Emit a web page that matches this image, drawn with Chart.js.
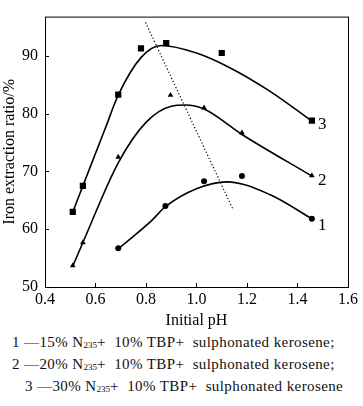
<!DOCTYPE html>
<html>
<head>
<meta charset="utf-8">
<script src="https://cdn.jsdelivr.net/npm/chart.js@4/dist/chart.umd.min.js"></script>
<style>
  body { margin: 0; background: #fff; }
  #wrap { position: relative; width: 363px; height: 330px; }
  .cap { font-family: "Liberation Serif", serif; font-size: 15px; color: #111; white-space: nowrap; position: absolute; letter-spacing: 0.4px; }
  .cap sub { font-size: 9px; vertical-align: -1px; letter-spacing: 0; }
</style>
</head>
<body>
<div id="wrap"><canvas id="grafico" width="363" height="330"></canvas></div>
<div class="cap" style="left:12px; top:334px;">1 —15% N<sub>235</sub>+ &nbsp;10% TBP+ &nbsp;sulphonated kerosene;</div>
<div class="cap" style="left:12px; top:356px;">2 —20% N<sub>235</sub>+ &nbsp;10% TBP+ &nbsp;sulphonated kerosene;</div>
<div class="cap" style="left:25px; top:378px;">3 —30% N<sub>235</sub>+ &nbsp;10% TBP+ &nbsp;sulphonated kerosene</div>
<script>
// pontos medidos (leitura do gráfico)
const phQuad = [0.51, 0.55, 0.69, 0.78, 0.88, 1.10, 1.457];
const razao3 = [63.0, 67.5, 83.3, 91.3, 92.2, 90.5, 78.8];
const phTri = [0.51, 0.55, 0.69, 0.897, 1.03, 1.18, 1.457];
const razao2 = [53.7, 57.7, 72.5, 83.2, 81.0, 76.7, 69.3];
const phCirc = [0.69, 0.877, 1.03, 1.18, 1.457];
const razao1 = [56.7, 64.0, 68.3, 69.2, 61.8];

// curvas ajustadas
const curvaPh3 = [0.51, 0.55, 0.64, 0.69, 0.78, 0.86, 1.0, 1.13, 1.29, 1.457];
const curva3 = [63.0, 67.5, 77.6, 83.2, 89.7, 91.8, 90.5, 88.0, 83.9, 78.7];
const curvaPh2 = [0.51, 0.55, 0.69, 0.8, 0.9, 0.956, 1.03, 1.18, 1.457];
const curva2 = [53.6, 57.7, 71.5, 78.5, 81.3, 81.5, 80.8, 76.4, 69.2];
const curvaPh1 = [0.69, 0.82, 0.877, 1.0, 1.12, 1.29, 1.457];
const curva1 = [56.6, 61.4, 63.9, 67.0, 68.2, 66.0, 61.8];

const linhaPh = [0.798, 1.146];
const linhaRazao = [95.8, 63.3];

const xTicks = [0.4, 0.6, 0.8, 1.0, 1.2, 1.4, 1.6];
const yTicks = [50, 60, 70, 80, 90];
const rotulos = ['3', '2', '1'];

function pares(xs, ys) {
  return xs.map((x, i) => ({ x: x, y: ys[i] }));
}

const fonte = '"Liberation Serif", "DejaVu Serif", serif';

function curva(xs, ys) {
  return {
    data: pares(xs, ys), showLine: true, borderColor: '#000', borderWidth: 1.6,
    pointRadius: 0, cubicInterpolationMode: 'monotone'
  };
}

function marcas(xs, ys, estilo, raio) {
  return {
    data: pares(xs, ys), showLine: false, pointStyle: estilo, pointRadius: raio,
    backgroundColor: '#000', borderColor: '#000', borderWidth: 0
  };
}

// moldura, ticks para dentro e números das curvas
const extras = {
  id: 'extras',
  afterDraw(chart) {
    const ctx = chart.ctx;
    const a = chart.chartArea;
    const sx = chart.scales.x, sy = chart.scales.y;
    ctx.save();
    ctx.strokeStyle = '#000';
    ctx.lineWidth = 1;
    ctx.strokeRect(a.left + 0.5, a.top + 0.5, a.right - a.left, a.bottom - a.top);
    xTicks.forEach(v => {
      const px = Math.round(sx.getPixelForValue(v)) + 0.5;
      ctx.beginPath(); ctx.moveTo(px, a.bottom); ctx.lineTo(px, a.bottom - 4); ctx.stroke();
    });
    yTicks.forEach(v => {
      const py = Math.round(sy.getPixelForValue(v)) + 0.5;
      ctx.beginPath(); ctx.moveTo(a.left, py); ctx.lineTo(a.left + 4, py); ctx.stroke();
    });
    ctx.fillStyle = '#000';
    ctx.font = '17px ' + fonte;
    ctx.textBaseline = 'middle';
    const fins = [razao3[razao3.length - 1], razao2[razao2.length - 1], razao1[razao1.length - 1]];
    fins.forEach((v, i) => {
      const px = sx.getPixelForValue(phQuad[phQuad.length - 1]);
      const py = sy.getPixelForValue(v);
      ctx.fillText(rotulos[i], px + 6, py + 4 + i * 1.5);
    });
    ctx.restore();
  }
};

const ctx = document.getElementById('grafico').getContext('2d');
const grafico = new Chart(ctx, {
  type: 'scatter',
  data: {
    datasets: [
      curva(curvaPh3, curva3),
      curva(curvaPh2, curva2),
      curva(curvaPh1, curva1),
      {
        data: pares(linhaPh, linhaRazao), showLine: true, borderColor: '#000',
        borderWidth: 1.2, borderDash: [1.2, 2.2], pointRadius: 0
      },
      marcas(phQuad, razao3, 'rect', 4.4),
      marcas(phTri, razao2, 'triangle', 3.3),
      marcas(phCirc, razao1, 'circle', 3)
    ]
  },
  options: {
    animation: false,
    responsive: false,
    layout: { padding: { top: 5, right: 15, left: 0, bottom: 0 } },
    plugins: { legend: { display: false }, tooltip: { enabled: false } },
    scales: {
      x: {
        min: 0.4, max: 1.6,
        afterBuildTicks: s => { s.ticks = xTicks.map(v => ({ value: v })); },
        afterFit: s => { s.height = 43; },
        grid: { display: false, drawTicks: false },
        border: { display: false },
        ticks: { color: '#000', padding: 3, maxRotation: 0, font: { family: fonte, size: 16 },
          callback: v => v.toFixed(1) },
        title: { display: true, text: 'Initial pH', color: '#000', padding: { top: 1, bottom: 0 },
          font: { family: fonte, size: 16 } }
      },
      y: {
        min: 50, max: 96.8,
        afterBuildTicks: s => { s.ticks = yTicks.map(v => ({ value: v })); },
        afterFit: s => { s.width = 45; },
        grid: { display: false, drawTicks: false },
        border: { display: false },
        ticks: { color: '#000', padding: 7, font: { family: fonte, size: 16 } },
        title: { display: true, text: 'Iron extraction ratio/%', color: '#000', padding: { top: 0, bottom: 1 },
          font: { family: fonte, size: 16 } }
      }
    }
  },
  plugins: [extras]
});
</script>
</body>
</html>
